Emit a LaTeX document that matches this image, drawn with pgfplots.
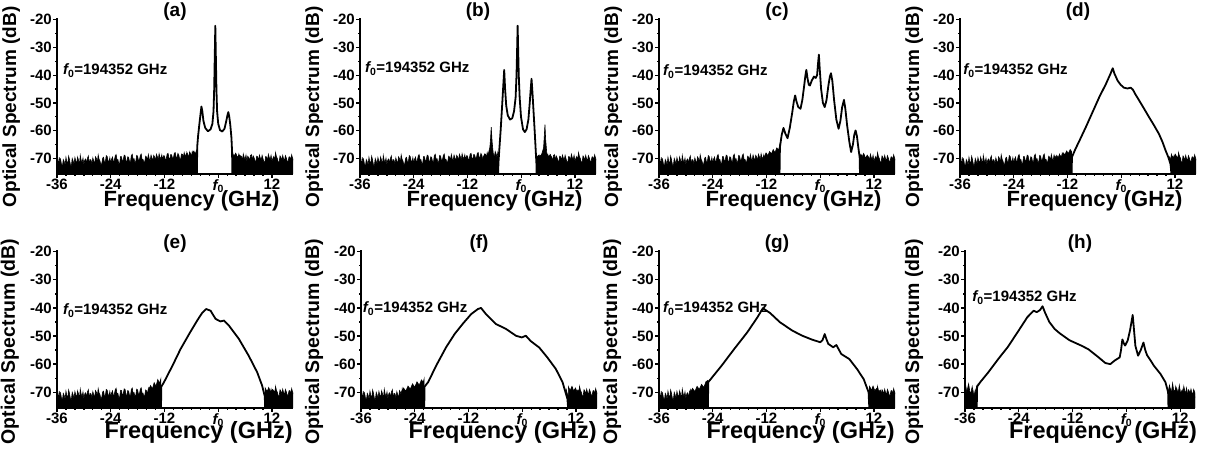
\documentclass[border=0pt]{standalone}
\usepackage{fontspec}
\setmainfont{Liberation Sans}
\usepackage{pgfplots}
\pgfplotsset{compat=1.18}
\usepackage{pgfplotstable}

\pgfplotstableread[row sep=\\]{
x y\\
-36.0 -77\\
-36.0 -71.2\\ -35.8 -70.1\\ -35.6 -72.4\\ -35.4 -69.8\\ -35.2 -70.3\\ -35.0 -72.1\\ -34.8 -73.0\\ -34.6 -70.4\\ -34.4 -71.1\\ -34.2 -72.6\\ -34.0 -69.6\\ -33.8 -71.3\\ -33.6 -71.9\\ -33.4 -69.2\\ -33.2 -70.5\\ -33.0 -72.3\\ -32.8 -72.8\\ -32.6 -70.0\\ -32.4 -70.9\\ -32.2 -72.2\\
-32.0 -69.7\\ -31.8 -71.0\\ -31.6 -71.8\\ -31.4 -69.5\\ -31.2 -70.6\\ -31.0 -72.5\\ -30.8 -68.9\\ -30.6 -70.7\\ -30.4 -71.5\\ -30.2 -69.9\\ -30.0 -72.3\\ -29.8 -70.6\\ -29.6 -70.2\\ -29.4 -71.9\\ -29.2 -69.9\\ -29.0 -69.1\\ -28.8 -72.0\\ -28.6 -70.4\\ -28.4 -70.6\\ -28.2 -72.1\\
-28.0 -69.8\\ -27.8 -70.9\\ -27.6 -72.1\\ -27.4 -69.4\\ -27.2 -70.0\\ -27.0 -71.6\\ -26.8 -68.7\\ -26.6 -70.3\\ -26.4 -70.9\\ -26.2 -72.4\\ -26.0 -71.8\\ -25.8 -69.9\\ -25.6 -69.6\\ -25.4 -71.5\\ -25.2 -71.2\\ -25.0 -69.0\\ -24.8 -69.3\\ -24.6 -70.8\\ -24.4 -71.5\\ -24.2 -69.7\\
-24.0 -71.9\\ -23.8 -70.2\\ -23.6 -69.5\\ -23.4 -71.4\\ -23.2 -70.8\\ -23.0 -69.1\\ -22.8 -68.6\\ -22.6 -70.5\\ -22.4 -70.4\\ -22.2 -72.0\\ -22.0 -71.7\\ -21.8 -69.3\\ -21.6 -69.4\\ -21.4 -71.1\\ -21.2 -70.6\\ -21.0 -68.8\\ -20.8 -69.0\\ -20.6 -70.9\\ -20.4 -71.2\\ -20.2 -69.4\\
-20.0 -69.6\\ -19.8 -71.2\\ -19.6 -71.4\\ -19.4 -69.0\\ -19.2 -68.5\\ -19.0 -70.4\\ -18.8 -70.1\\ -18.6 -71.6\\ -18.4 -71.0\\ -18.2 -68.9\\ -18.0 -69.2\\ -17.8 -70.8\\ -17.6 -70.6\\ -17.4 -69.0\\ -17.2 -68.4\\ -17.0 -70.5\\ -16.8 -70.3\\ -16.6 -71.5\\ -16.4 -71.1\\ -16.2 -69.2\\
-16.0 -69.5\\ -15.8 -70.6\\ -15.6 -68.6\\ -15.4 -70.2\\ -15.2 -70.7\\ -15.0 -68.8\\ -14.8 -69.8\\ -14.6 -71.0\\ -14.4 -68.9\\ -14.2 -69.5\\ -14.0 -70.8\\ -13.8 -68.5\\ -13.6 -69.3\\ -13.4 -70.7\\ -13.2 -68.3\\ -13.0 -69.6\\ -12.8 -70.2\\ -12.6 -68.7\\ -12.4 -70.6\\ -12.2 -69.0\\
-12.0 -69.1\\ -11.8 -70.5\\ -11.6 -70.2\\ -11.4 -68.4\\ -11.2 -68.2\\ -11.0 -69.9\\ -10.8 -70.3\\ -10.6 -68.6\\ -10.4 -68.7\\ -10.2 -70.1\\ -10.0 -69.8\\ -9.8 -68.1\\ -9.6 -67.9\\ -9.4 -69.7\\ -9.2 -69.6\\ -9.0 -68.2\\ -8.8 -68.8\\ -8.6 -70.2\\ -8.4 -70.3\\ -8.2 -68.4\\
-8.0 -68.5\\ -7.8 -69.7\\ -7.6 -67.9\\ -7.4 -69.2\\ -7.2 -69.8\\ -7.0 -67.8\\ -6.8 -68.6\\ -6.6 -69.9\\ -6.4 -67.7\\ -6.2 -68.9\\ -6.0 -69.4\\ -5.8 -67.5\\ -5.6 -68.4\\ -5.4 -69.6\\ -5.2 -67.6\\ -5.0 -68.8\\ -4.8 -69.1\\ -4.6 -67.4\\ -4.4 -68.1\\ -4.2 -69.5\\
-4.0 -69.4\\ -3.6 -70.4\\ -3.2 -68.9\\ -2.8 -70.8\\ -2.4 -69.7\\ -2.0 -69.0\\ -1.6 -70.9\\ -1.2 -69.5\\ -0.8 -68.7\\ -0.4 -70.5\\
0.0 -71.0\\ 0.4 -69.4\\ 0.8 -68.9\\ 1.2 -70.6\\ 1.6 -69.8\\ 2.0 -71.2\\ 2.4 -69.1\\ 2.8 -70.2\\ 3.2 -70.8\\ 3.6 -69.3\\
4.0 -68.7\\ 4.2 -70.4\\ 4.4 -70.1\\ 4.6 -68.5\\ 4.8 -70.9\\ 5.0 -69.0\\ 5.2 -69.3\\ 5.4 -70.8\\ 5.6 -68.4\\ 5.8 -69.6\\ 6.0 -70.3\\ 6.2 -68.8\\ 6.4 -71.1\\ 6.6 -69.2\\ 6.8 -69.7\\ 7.0 -71.0\\ 7.2 -69.0\\ 7.4 -68.6\\ 7.6 -70.7\\ 7.8 -69.1\\
8.0 -69.7\\ 8.2 -70.8\\ 8.4 -71.3\\ 8.6 -69.2\\ 8.8 -69.4\\ 9.0 -70.9\\ 9.2 -68.8\\ 9.4 -69.9\\ 9.6 -70.6\\ 9.8 -68.9\\ 10.0 -70.1\\ 10.2 -71.2\\ 10.4 -71.5\\ 10.6 -69.3\\ 10.8 -69.5\\ 11.0 -70.8\\ 11.2 -68.5\\ 11.4 -69.7\\ 11.6 -70.4\\ 11.8 -68.9\\
12.0 -71.0\\ 12.2 -70.0\\ 12.4 -69.3\\ 12.6 -70.9\\ 12.8 -67.9\\ 13.0 -69.4\\ 13.2 -70.0\\ 13.4 -71.3\\ 13.6 -71.4\\ 13.8 -69.1\\ 14.0 -69.6\\ 14.2 -70.9\\ 14.4 -68.9\\ 14.6 -70.2\\ 14.8 -70.8\\ 15.0 -69.0\\ 15.2 -69.8\\ 15.4 -71.0\\ 15.6 -71.2\\ 15.8 -69.5\\
16.0 -69.4\\ 16.2 -70.7\\ 16.4 -68.7\\ 16.6 -69.9\\ 16.8 -70.6\\ 17.0 -69.8\\
17.0 -77\\
}\noise

\newcommand{\tlfont}{\fontsize{15}{15}\selectfont\bfseries}
\newcommand{\fz}{{\itshape f}\textsubscript{0}}

\pgfplotsset{
  panel/.style={
    scale only axis, width=236pt,
    xmin=-36, xmax=16.7, ymin=-75.6, ymax=-19.4,
    axis x line*=bottom, axis y line*=left,
    axis line style={line width=1.8pt},
    xtick={-36,-24,-12,0,12},
    xticklabels={{\tlfont -36},{\tlfont -24},{\tlfont -12},{\tlfont\fz},{\tlfont 12}},
    ytick={-70,-60,-50,-40,-30,-20},
    yticklabels={{\tlfont -70},{\tlfont -60},{\tlfont -50},{\tlfont -40},{\tlfont -30},{\tlfont -20}},
    minor y tick num=1, minor x tick num=5,
    tick align=outside, major tick length=4pt, minor tick length=2pt,
    tick style={line width=1.3pt, black},
    xticklabel style={inner sep=1pt},
    yticklabel style={inner sep=1pt},
    xlabel={Frequency (GHz)}, ylabel={Optical Spectrum (dB)},
    title style={at={(axis description cs:0.5,1)}, anchor=center, font=\fontsize{19}{19}\selectfont\bfseries},
    axis on top, clip=true,
  },
  toprow/.style={height=156pt,
    xlabel style={at={([yshift=-32.7pt]axis description cs:0.57,0)}, anchor=base, font=\fontsize{22}{22}\selectfont\bfseries},
    ylabel style={at={([xshift=-41pt]axis description cs:0,0.43)}, anchor=base, font=\fontsize{19}{19}\selectfont\bfseries}},
  botrow/.style={height=158pt,
    xlabel style={at={([yshift=-30.3pt]axis description cs:0.6,0)}, anchor=base, font=\fontsize{23.5}{23.5}\selectfont\bfseries},
    ylabel style={at={([xshift=-42pt]axis description cs:0,0.42)}, anchor=base, font=\fontsize{19.5}{19.5}\selectfont\bfseries}},
  noisefill/.style={fill=black, draw=black, line width=0.6pt},
  sig/.style={fill=white, draw=black, line width=1.8pt, line join=round},
}
\newcommand{\fnote}[2]{\node[anchor=west, font=\fontsize{15}{15}\selectfont\bfseries, inner sep=0pt] at (axis cs:#1,#2) {\fz=194352 GHz};}

\begin{document}
\begin{tikzpicture}
\path[use as bounding box] (0,0) rectangle (1206pt,449pt);

% (a)
\begin{axis}[panel, toprow, at={(57pt,275pt)}, anchor=south west, title={(a)}]
\addplot[noisefill] table {\noise};
\addplot[noisefill] coordinates {(-7.5,-77) (-7.5,-69.5) (-7.1,-68.3) (-6.7,-69.6) (-6.3,-67.9) (-5.9,-69.1) (-5.5,-67.4) (-5.1,-68.5) (-4.75,-66.8) (-4.75,-77)};
\addplot[noisefill] coordinates {(3.15,-77) (3.15,-67.8) (3.5,-69.2) (3.9,-68.1) (4.3,-69.6) (4.7,-68.7) (5.1,-70.0) (5.1,-77)};
\addplot[sig] coordinates {(-4.75,-77) (-4.7,-66) (-4.5,-62) (-4.2,-57.5) (-3.95,-54) (-3.75,-51.3) (-3.55,-53) (-3.3,-56.5) (-2.9,-59) (-2.3,-60.2) (-1.7,-59.5) (-1.3,-57.5) (-1.05,-53) (-0.9,-45) (-0.78,-34) (-0.65,-22.2) (-0.52,-34) (-0.4,-45) (-0.25,-53) (0.0,-57.5) (0.4,-59.8) (0.9,-60.3) (1.4,-59.3) (1.8,-56.5) (2.05,-54.5) (2.25,-53.3) (2.45,-54.8) (2.7,-58) (2.95,-62.5) (3.1,-67.7) (3.15,-77)};
\fnote{-34.7}{-38.3}
\end{axis}

% (b)
\begin{axis}[panel, toprow, at={(360pt,275pt)}, anchor=south west, title={(b)}]
\addplot[noisefill] table {\noise};
\addplot[noisefill] coordinates {(-8.5,-77) (-8.5,-69.5) (-8.1,-68.4) (-7.7,-69.6) (-7.3,-68) (-7.0,-66) (-6.85,-63) (-6.7,-58.7) (-6.5,-64) (-6.2,-69) (-5.6,-73) (-5.2,-77)};
\addplot[noisefill] coordinates {(3.45,-77) (3.6,-70) (4.1,-69.2) (4.6,-68.5) (5.0,-66) (5.15,-62) (5.3,-57.8) (5.45,-63) (5.7,-68) (6.1,-69.5) (6.5,-68.6) (6.9,-70) (6.9,-77)};
\addplot[sig] coordinates {(-5.15,-77) (-5.1,-72) (-4.9,-67) (-4.6,-60) (-4.3,-52) (-4.05,-45) (-3.8,-38.1) (-3.6,-45) (-3.35,-51) (-3.0,-54.5) (-2.5,-56) (-2.0,-55.5) (-1.6,-53) (-1.25,-48) (-1.05,-40) (-0.92,-31) (-0.8,-22.2) (-0.68,-31) (-0.55,-40) (-0.35,-48) (-0.05,-55) (0.4,-59.5) (0.8,-60.5) (1.2,-59.5) (1.6,-56) (1.9,-50) (2.1,-45.5) (2.3,-41.3) (2.5,-46) (2.75,-53) (3.0,-60) (3.2,-66) (3.4,-72) (3.45,-77)};
\fnote{-34.9}{-37.6}
\end{axis}

% (c)
\begin{axis}[panel, toprow, at={(659pt,275pt)}, anchor=south west, title={(c)}]
\addplot[noisefill] table {\noise};
\addplot[noisefill] coordinates {(-12.5,-77) (-12.5,-69.5) (-12.1,-68) (-11.7,-69) (-11.3,-67.5) (-10.9,-68.4) (-10.5,-66.8) (-10.1,-67.9) (-9.7,-66.2) (-9.3,-67) (-9.1,-65.5) (-9.1,-77)};
\addplot[noisefill] coordinates {(8.9,-77) (8.9,-68.5) (9.3,-69.6) (9.7,-68.2) (10.1,-69.9) (10.5,-68.8) (10.9,-70) (10.9,-77)};
\addplot[sig] coordinates {(-9.1,-77) (-9.0,-66) (-8.6,-61.5) (-8.2,-59.0) (-7.8,-61) (-7.3,-62.7) (-6.8,-59) (-6.3,-54) (-5.9,-49.5) (-5.6,-47.3) (-5.3,-49.5) (-4.9,-51.5) (-4.4,-52.1) (-4.0,-49) (-3.6,-44) (-3.3,-40) (-3.1,-38.1) (-2.85,-41) (-2.55,-43.5) (-2.3,-43.7) (-1.9,-42) (-1.4,-40.5) (-1.0,-41) (-0.7,-40) (-0.5,-36) (-0.3,-32.6) (-0.1,-38) (0.2,-45) (0.6,-50) (1.0,-51.5) (1.4,-49) (1.8,-44) (2.15,-40.5) (2.4,-39.3) (2.7,-42) (3.1,-49) (3.6,-56) (4.1,-59.3) (4.5,-56.5) (4.9,-51.5) (5.3,-48.9) (5.6,-52) (6.0,-58) (6.5,-64) (6.9,-67.7) (7.3,-65) (7.6,-61.5) (7.9,-59.9) (8.2,-62) (8.5,-66) (8.8,-69.5) (8.9,-77)};
\fnote{-35.1}{-38.7}
\end{axis}

% (d)
\begin{axis}[panel, toprow, at={(960pt,275pt)}, anchor=south west, title={(d)}]
\addplot[noisefill] table {\noise};
\addplot[noisefill] coordinates {(-15,-77) (-15,-70.5) (-14.6,-69.2) (-14.2,-70.3) (-13.8,-68.6) (-13.4,-69.5) (-13.0,-67.9) (-12.6,-68.8) (-12.2,-67.3) (-11.8,-68.2) (-11.4,-66.8) (-11.1,-67.5) (-11.1,-77)};
\addplot[noisefill] coordinates {(11.3,-77) (11.3,-69) (11.7,-69.8) (12.1,-68.5) (12.5,-69.9) (12.9,-68.8) (13.3,-70.2) (13.3,-77)};
\addplot[sig] coordinates {(-11.1,-77) (-11.0,-69.5) (-10.2,-66.5) (-9.3,-63.5) (-7.9,-58.7) (-6.4,-53.3) (-4.9,-47.9) (-3.4,-43.1) (-2.4,-39.5) (-1.9,-37.5) (-1.5,-39.5) (-0.8,-42) (-0.1,-43.5) (0.6,-44.5) (1.4,-44.8) (2.1,-44.5) (2.6,-45.2) (3.2,-47) (4.0,-49.1) (5.0,-51.8) (6.2,-55.1) (7.3,-58) (8.4,-61.1) (9.2,-64) (9.9,-67.1) (10.5,-69.5) (11.0,-72) (11.3,-77)};
\fnote{-35.3}{-38.3}
\end{axis}

% (e)
\begin{axis}[panel, botrow, at={(57pt,41pt)}, anchor=south west, title={(e)}]
\addplot[noisefill] table {\noise};
\addplot[noisefill] coordinates {(-15.5,-77) (-15.5,-69) (-15.1,-67.6) (-14.7,-68.8) (-14.3,-66.6) (-13.9,-67.9) (-13.5,-65.5) (-13.1,-66.8) (-12.8,-65.2) (-12.8,-77)};
\addplot[noisefill] coordinates {(10.5,-77) (10.5,-68.5) (10.9,-69.8) (11.3,-68.4) (11.7,-70) (12.1,-69) (12.5,-70.5) (12.5,-77)};
\addplot[sig] coordinates {(-12.8,-77) (-12.7,-68) (-12.1,-66.4) (-10.2,-60.5) (-8.4,-54.6) (-6.5,-49.3) (-4.7,-44.5) (-3.6,-41.8) (-2.7,-40.4) (-1.7,-41) (-0.6,-43.9) (0.5,-44.8) (1.3,-44.5) (2.4,-46.3) (4.6,-51) (6.8,-57) (8.7,-62.9) (9.8,-67.6) (10.4,-71.5) (10.5,-77)};
\fnote{-34.7}{-41}
\end{axis}

% (f)
\begin{axis}[panel, botrow, at={(361pt,41pt)}, anchor=south west, title={(f)}]
\addplot[noisefill] table {\noise};
\addplot[noisefill] coordinates {(-27,-77) (-27,-70) (-26.5,-68.5) (-26,-69.6) (-25.5,-67.8) (-25,-68.9) (-24.5,-67) (-24,-68.2) (-23.5,-66.3) (-23,-67.5) (-22.5,-65.6) (-22.1,-66.5) (-21.9,-65.2) (-21.9,-77)};
\addplot[noisefill] coordinates {(10.3,-77) (10.3,-68) (10.7,-69.4) (11.1,-67.9) (11.5,-69.6) (11.9,-68.5) (12.3,-70.2) (12.7,-69.1) (13.1,-70.4) (13.1,-77)};
\addplot[sig] coordinates {(-21.9,-77) (-21.8,-68) (-21.0,-66.4) (-19.2,-60.5) (-17.0,-54.0) (-15.1,-49.3) (-13.3,-45.7) (-11.4,-42.2) (-9.9,-40.4) (-9.2,-40.0) (-8.1,-42.2) (-5.9,-45.7) (-3.6,-47.5) (-1.4,-49.9) (-0.1,-50.5) (0.8,-49.9) (1.9,-51.8) (3.8,-54.1) (5.6,-57.6) (7.5,-61.7) (9.0,-66.4) (10.1,-72.4) (10.3,-77)};
\fnote{-35.6}{-40.3}
\end{axis}

% (g)
\begin{axis}[panel, botrow, at={(659pt,41pt)}, anchor=south west, title={(g)}]
\addplot[noisefill] table {\noise};
\addplot[noisefill] coordinates {(-29,-77) (-29,-70) (-28.5,-68.6) (-28,-69.8) (-27.5,-67.9) (-27,-69) (-26.5,-67.2) (-26,-68.3) (-25.5,-66.2) (-25.1,-65.8) (-25.1,-77)};
\addplot[noisefill] coordinates {(11.0,-77) (11.0,-68) (11.4,-69.3) (11.8,-67.8) (12.2,-69.5) (12.6,-68.6) (13,-70) (13.4,-69.2) (13.8,-70.5) (13.8,-77)};
\addplot[sig] coordinates {(-25.1,-77) (-25.0,-66.4) (-22,-60.5) (-19.2,-54.6) (-16.3,-48.7) (-14,-43.3) (-12.8,-40.1) (-11.2,-41.8) (-9,-45.1) (-6.2,-48.1) (-4,-49.9) (-1.8,-51.3) (0,-52.2) (0.5,-51.5) (1.0,-49.3) (1.4,-51.2) (1.8,-52.8) (2.9,-54) (3.6,-53.2) (4.7,-56.4) (6.5,-58.2) (8.2,-61.7) (9.7,-65.3) (10.8,-70) (11.0,-77)};
\fnote{-35.1}{-40.3}
\end{axis}

% (h)
\begin{axis}[panel, botrow, width=230pt, xmax=15.3, at={(965pt,41pt)}, anchor=south west, title={(h)},
  ylabel style={at={([xshift=-46pt]axis description cs:0,0.42)}}]
\addplot[noisefill] table {\noise};
\addplot[noisefill] coordinates {(-36.5,-77) (-36.5,-66) (-36,-66) (-35.6,-70) (-35.2,-67) (-34.8,-71) (-34.4,-68) (-34,-72) (-33.6,-69) (-33.3,-67.5) (-33.3,-77)};
\addplot[noisefill] coordinates {(9.3,-77) (9.3,-70) (9.6,-67.5) (10.0,-70.5) (10.3,-66.8) (10.7,-71) (11.0,-68) (11.4,-72) (11.8,-67.5) (12.2,-71.5) (12.6,-69) (13,-72.5) (13.4,-68.5) (13.8,-72) (14.2,-69.5) (14.6,-73) (15,-70) (15.5,-72.5) (15.5,-77)};
\addplot[sig] coordinates {(-33.4,-77) (-33.3,-68) (-32.6,-66.4) (-30.8,-62.9) (-28.6,-58.2) (-26.5,-54) (-24.3,-48.7) (-22.1,-43.3) (-20.7,-41) (-20,-41.5) (-19.3,-40.8) (-18.7,-39.4) (-18.2,-41.5) (-17.2,-45) (-16,-47.5) (-14.9,-49) (-12.7,-51.5) (-9.8,-53.6) (-8.4,-54.8) (-6.2,-57.6) (-4.7,-59.6) (-3.6,-60) (-2.6,-58.7) (-1.5,-57.6) (-1.2,-55) (-0.9,-51.2) (-0.6,-52.5) (-0.3,-53.4) (0.3,-51.5) (0.8,-48) (1.4,-42.5) (1.7,-48) (2.0,-53.5) (2.6,-57) (3.2,-55) (3.8,-52.3) (4.2,-55) (4.6,-56.8) (5.4,-58.7) (6.1,-60.5) (7.6,-63.5) (8.7,-66.4) (9.3,-70) (9.4,-77)};
\fnote{-34.4}{-36.4}
\end{axis}
\end{tikzpicture}
\end{document}
